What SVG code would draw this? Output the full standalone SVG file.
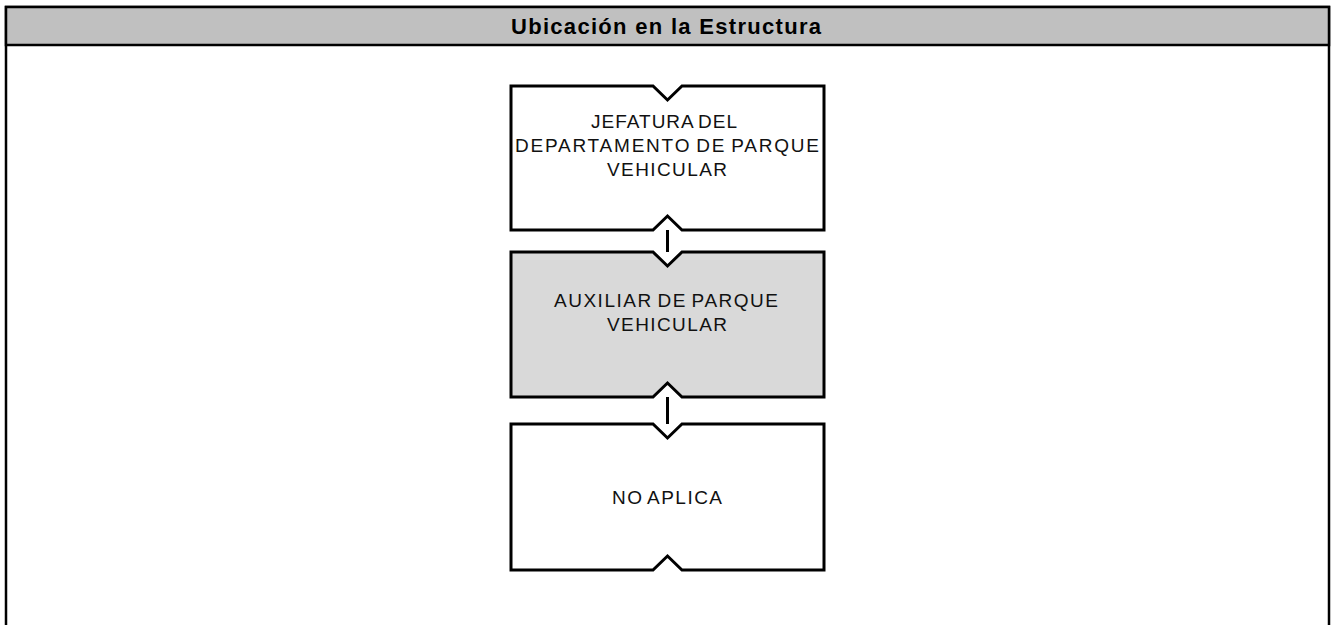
<svg xmlns="http://www.w3.org/2000/svg" width="1331" height="625" viewBox="0 0 1331 625">
<style>
.frame{fill:#ffffff;stroke:#000;stroke-width:2.5}
.hdr{fill:#c0c0c0;stroke:#000;stroke-width:2.5}
.box{fill:#ffffff;stroke:#000;stroke-width:3;stroke-linejoin:miter}
.sel{fill:#d9d9d9}
.t{font-family:"Liberation Sans",Arial,sans-serif;font-size:19px;fill:#111;text-anchor:middle;word-spacing:-2px}
.h{font-family:"Liberation Sans",Arial,sans-serif;font-size:22px;font-weight:bold;fill:#000;text-anchor:middle}
.c{stroke:#000;stroke-width:3;fill:none}
</style>
<rect width="1331" height="625" fill="#ffffff"/>
<g id="frame">
<rect class="frame" x="6" y="7" width="1323" height="640"/>
<rect class="hdr" x="6" y="7" width="1323" height="38"/>
<text class="h" x="666" y="34" textLength="310" lengthAdjust="spacing">Ubicación en la Estructura</text>
</g>
<g id="connectors">
<line class="c" x1="667.5" y1="230" x2="667.5" y2="252"/>
<line class="c" x1="667.5" y1="397" x2="667.5" y2="424"/>
</g>
<g id="node1">
<polygon class="box" points="511,86 653,86 667.5,100 682,86 824,86 824,230 682,230 667.5,216 653,230 511,230"/>
<text class="t" x="664" y="128" textLength="146" lengthAdjust="spacing">JEFATURA DEL</text>
<text class="t" x="667" y="152" textLength="304" lengthAdjust="spacing">DEPARTAMENTO DE PARQUE</text>
<text class="t" x="667" y="176" textLength="120" lengthAdjust="spacing">VEHICULAR</text>
</g>
<g id="node2">
<polygon class="box sel" points="511,252 653,252 667.5,266 682,252 824,252 824,397 682,397 667.5,383 653,397 511,397"/>
<text class="t" x="666" y="307" textLength="224" lengthAdjust="spacing">AUXILIAR DE PARQUE</text>
<text class="t" x="667" y="331" textLength="120" lengthAdjust="spacing">VEHICULAR</text>
</g>
<g id="node3">
<polygon class="box" points="511,424 653,424 667.5,438 682,424 824,424 824,570 682,570 667.5,556 653,570 511,570"/>
<text class="t" x="667" y="504" textLength="110" lengthAdjust="spacing">NO APLICA</text>
</g>
</svg>
